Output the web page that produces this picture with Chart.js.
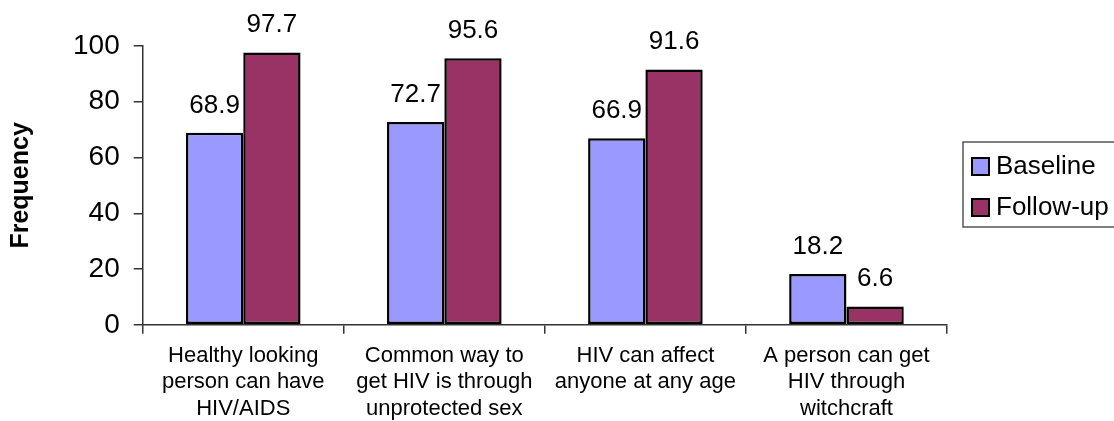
<!DOCTYPE html>
<html>
<head>
<meta charset="utf-8">
<script src="https://cdn.jsdelivr.net/npm/chart.js@4/dist/chart.umd.min.js"></script>
<style>
  html, body { margin: 0; padding: 0; background: #fff; overflow: hidden; }
  #wrap { width: 1114px; height: 421px; }
</style>
</head>
<body>
<div id="wrap"><canvas id="knowledgeChart"></canvas></div>
<script>
const categories = [
  ["Healthy looking", "person can have", "HIV/AIDS"],
  ["Common way to", "get HIV is through", "unprotected sex"],
  ["HIV can affect", "anyone at any age"],
  ["A person can get", "HIV through", "witchcraft"]
];
const baseline = [68.9, 72.7, 66.9, 18.2];
const followUp = [97.7, 95.6, 91.6, 6.6];
const yTicks = [0, 20, 40, 60, 80, 100];

const FONT = "'Liberation Sans', Arial, sans-serif";

// value labels above each bar
const valueLabels = {
  id: "valueLabels",
  afterDatasetsDraw(chart) {
    const ctx = chart.ctx;
    ctx.save();
    ctx.font = "26px " + FONT;
    ctx.fillStyle = "#000";
    ctx.textAlign = "center";
    ctx.textBaseline = "alphabetic";
    chart.data.datasets.forEach((ds, i) => {
      chart.getDatasetMeta(i).data.forEach((bar, j) => {
        ctx.fillText(ds.data[j].toFixed(1), bar.x, bar.y - 20);
      });
    });
    ctx.restore();
  }
};

// boxed legend on the right, running off the edge like the original
const boxLegend = {
  id: "boxLegend",
  afterDraw(chart) {
    const ctx = chart.ctx;
    const left = chart.chartArea.right + 16;
    const top = 142, h = 85;
    const far = chart.width + 40;
    ctx.save();
    ctx.strokeStyle = "#555";
    ctx.lineWidth = 1.5;
    ctx.beginPath();
    ctx.moveTo(far, top);
    ctx.lineTo(left, top);
    ctx.lineTo(left, top + h);
    ctx.lineTo(far, top + h);
    ctx.stroke();
    ctx.font = "26px " + FONT;
    ctx.textBaseline = "middle";
    chart.data.datasets.forEach((ds, i) => {
      const cy = top + 24 + i * 41;
      ctx.fillStyle = ds.backgroundColor;
      ctx.fillRect(left + 9, cy - 8, 17, 17);
      ctx.strokeStyle = "#000";
      ctx.lineWidth = 2;
      ctx.strokeRect(left + 9, cy - 8, 17, 17);
      ctx.fillStyle = "#000";
      ctx.fillText(ds.label, left + 33, cy + 1);
    });
    ctx.restore();
  }
};

new Chart(document.getElementById("knowledgeChart"), {
  type: "bar",
  data: {
    labels: categories,
    datasets: [
      {
        label: "Baseline",
        data: baseline,
        backgroundColor: "#9999ff",
        borderColor: "#000",
        borderWidth: 2.5,
        borderSkipped: false
      },
      {
        label: "Follow-up",
        data: followUp,
        backgroundColor: "#993366",
        borderColor: "#000",
        borderWidth: 2.5,
        borderSkipped: false
      }
    ]
  },
  options: {
    responsive: true,
    maintainAspectRatio: false,
    animation: false,
    datasets: {
      bar: { categoryPercentage: 0.57, barPercentage: 1.0 }
    },
    layout: {
      padding: { top: 46, right: 167, bottom: -10, left: 6 }
    },
    plugins: {
      legend: { display: false },
      tooltip: { enabled: false }
    },
    scales: {
      x: {
        grid: {
          drawOnChartArea: false,
          offset: true,
          tickLength: 9,
          color: "#333",
          lineWidth: 1.5
        },
        border: { color: "#333", width: 1.5 },
        ticks: {
          color: "#000",
          padding: 9,
          maxRotation: 0,
          autoSkip: false,
          font: { family: FONT, size: 22, lineHeight: 1.2 }
        }
      },
      y: {
        min: 0,
        max: 100,
        afterBuildTicks: axis => { axis.ticks = yTicks.map(v => ({ value: v })); },
        grid: {
          drawOnChartArea: false,
          tickLength: 9,
          color: "#333",
          lineWidth: 1.5
        },
        border: { color: "#333", width: 1.5 },
        ticks: {
          color: "#000",
          padding: 14,
          font: { family: FONT, size: 28 }
        },
        title: {
          display: true,
          text: "Frequency",
          color: "#000",
          padding: { top: 0, bottom: 23 },
          font: { family: FONT, size: 25, weight: "bold" }
        }
      }
    }
  },
  plugins: [valueLabels, boxLegend]
});
</script>
</body>
</html>
